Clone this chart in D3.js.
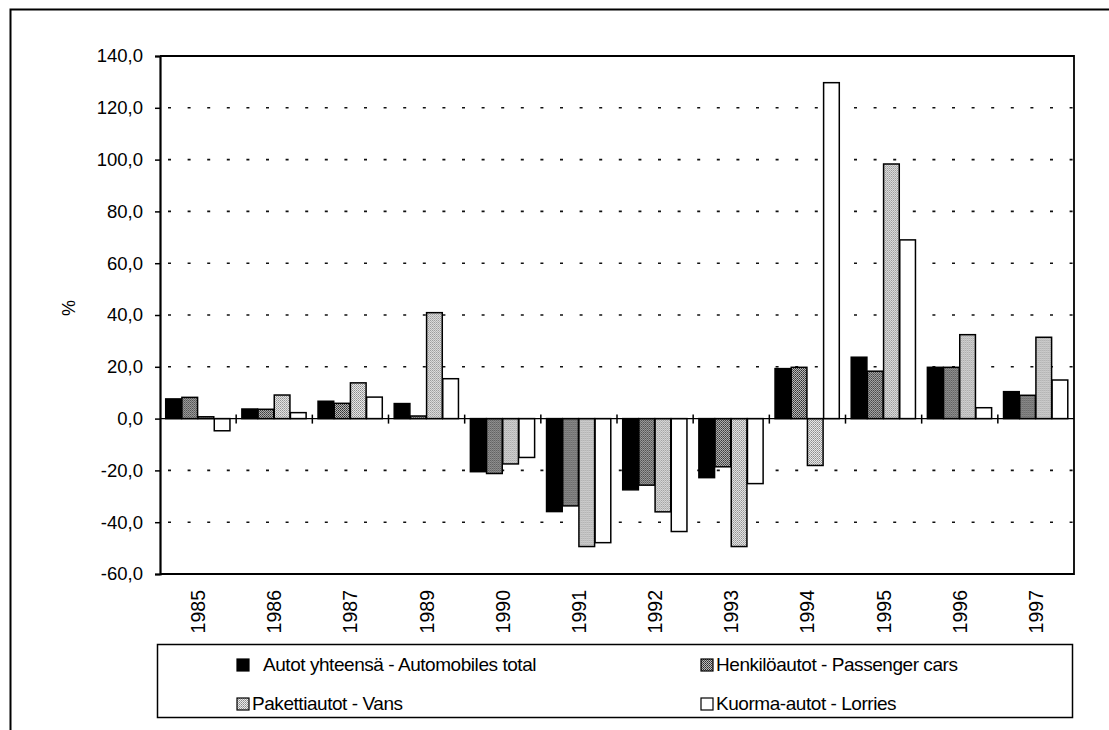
<!DOCTYPE html>
<html>
<head>
<meta charset="utf-8">
<script src="https://cdn.jsdelivr.net/npm/d3@7"></script>
<style>
  body { margin: 0; padding: 0; background: #fff; }
  svg { display: block; font-family: 'Liberation Sans', Arial, sans-serif; }
  .year { font-family: 'Liberation Sans Narrow', 'Arial Narrow', 'Liberation Sans', sans-serif; }
</style>
</head>
<body>
<svg id="chart" width="1109" height="730"></svg>
<script>
const years = ['1985', '1986', '1987', '1989', '1990', '1991', '1992', '1993', '1994', '1995', '1996', '1997']
const seriesNames = [
  'Autot yhteensä -  Automobiles total',
  'Henkilöautot - Passenger cars',
  'Pakettiautot - Vans',
  'Kuorma-autot - Lorries'
]
const automobilesTotal = [7.6, 3.7, 6.7, 5.8, -20.5, -35.9, -27.5, -22.8, 19.3, 23.7, 19.8, 10.4]
const passengerCars = [8.2, 3.6, 5.9, 1.0, -21.2, -33.7, -25.7, -18.6, 19.8, 18.3, 19.8, 9.0]
const vans = [0.7, 9.1, 13.8, 40.9, -17.5, -49.4, -36.0, -49.4, -18.1, 98.3, 32.4, 31.4]
const lorries = [-4.7, 2.3, 8.3, 15.4, -15.0, -47.9, -43.6, -25.1, 129.7, 69.0, 4.2, 14.9]
const yTicks = [140, 120, 100, 80, 60, 40, 20, 0, -20, -40, -60]

const allSeries = [automobilesTotal, passengerCars, vans, lorries]
const fills = ['#000', 'url(#passenger)', 'url(#vans)', '#fff']

const margin = {top: 56, right: 35, bottom: 156, left: 160}
const width = 1109
const height = 730
const plotW = width - margin.left - margin.right
const plotH = height - margin.top - margin.bottom

const svg = d3.select('#chart')

// dot textures for the two grey series
const defs = svg.append('defs')
const pPass = defs.append('pattern').attr('id', 'passenger')
  .attr('width', 2).attr('height', 2).attr('patternUnits', 'userSpaceOnUse')
pPass.append('rect').attr('width', 2).attr('height', 2).attr('fill', '#bdbdbd')
pPass.append('rect').attr('width', 1).attr('height', 1).attr('fill', '#2a2a2a')
pPass.append('rect').attr('x', 1).attr('y', 1).attr('width', 1).attr('height', 1).attr('fill', '#4a4a4a')
const pVans = defs.append('pattern').attr('id', 'vans')
  .attr('width', 2).attr('height', 2).attr('patternUnits', 'userSpaceOnUse')
pVans.append('rect').attr('width', 2).attr('height', 2).attr('fill', '#ececec')
pVans.append('rect').attr('width', 1).attr('height', 1).attr('fill', '#888')
pVans.append('rect').attr('x', 1).attr('y', 1).attr('width', 1).attr('height', 1).attr('fill', '#a5a5a5')

// outer frame
svg.append('path')
  .attr('d', 'M10.5,740V9.5H1115')
  .attr('fill', 'none').attr('stroke', '#000').attr('stroke-width', 2)

const g = svg.append('g').attr('transform', `translate(${margin.left},${margin.top})`)

const y = d3.scaleLinear().domain([-60, 140]).range([plotH, 0])
const x0 = d3.scaleBand().domain(years).range([0, plotW]).paddingInner(0.15).paddingOuter(0.075)
const x1 = d3.scaleBand().domain(d3.range(allSeries.length)).range([0, x0.bandwidth()])

// dotted gridlines
g.append('g')
  .selectAll('line')
  .data(yTicks.filter(t => t !== 0 && t !== 140 && t !== -60))
  .enter()
  .append('line')
  .attr('x1', 8).attr('x2', plotW)
  .attr('y1', d => y(d)).attr('y2', d => y(d))
  .attr('stroke', '#111')
  .attr('stroke-width', 1.6)
  .attr('stroke-dasharray', '3,16.6')

// bars
const groups = g.selectAll('g.year-group')
  .data(years)
  .enter()
  .append('g')
  .classed('year-group', true)
  .attr('transform', d => `translate(${x0(d)},0)`)

groups.selectAll('rect')
  .data((d, i) => allSeries.map((s, k) => ({k, v: s[i]})))
  .enter()
  .append('rect')
  .attr('x', d => x1(d.k))
  .attr('width', x1.bandwidth() - 0.5)
  .attr('y', d => y(Math.max(0, d.v)))
  .attr('height', d => Math.abs(y(d.v) - y(0)))
  .attr('fill', d => fills[d.k])
  .attr('stroke', '#000')
  .attr('stroke-width', 1.5)

// zero line with ticks between categories
g.append('line')
  .attr('x1', 0).attr('x2', plotW)
  .attr('y1', y(0)).attr('y2', y(0))
  .attr('stroke', '#000').attr('stroke-width', 1.2)
g.append('g')
  .selectAll('line')
  .data(years.slice(1))
  .enter()
  .append('line')
  .attr('x1', d => x0(d) - x0.step() * x0.paddingInner() / 2)
  .attr('x2', d => x0(d) - x0.step() * x0.paddingInner() / 2)
  .attr('y1', y(0) - 4).attr('y2', y(0) + 5)
  .attr('stroke', '#000').attr('stroke-width', 1.5)

// plot border
g.append('path')
  .attr('d', `M0,0H${plotW}V${plotH}H0`)
  .attr('fill', 'none').attr('stroke', '#000').attr('stroke-width', 1.8)

// y axis
const yAxis = d3.axisLeft(y)
  .tickValues(yTicks)
  .tickSize(5)
  .tickPadding(12)
  .tickFormat(d => d3.format('.1f')(d).replace('.', ',').replace('−', '-'))
const yg = g.append('g').call(yAxis)
yg.select('.domain').attr('stroke-width', 2.2)
yg.selectAll('.tick line').attr('stroke-width', 1.5)
yg.selectAll('.tick text')
  .attr('font-size', 18.5)
  .attr('font-family', "'Liberation Sans', Arial, sans-serif")
  .attr('fill', '#000')

// year labels
g.append('g')
  .selectAll('text')
  .data(years)
  .enter()
  .append('text')
  .attr('class', 'year')
  .attr('transform', d => `translate(${x0(d) + x0.bandwidth() / 2 + 7},${plotH + 16}) rotate(-90)`)
  .attr('text-anchor', 'end')
  .attr('font-size', 19.5)
  .text(d => d)

// % label
svg.append('text')
  .attr('transform', `translate(62,${margin.top + plotH / 2 - 7}) rotate(90)`)
  .attr('text-anchor', 'middle')
  .attr('font-size', 18)
  .text('%')

// legend
const legend = svg.append('g')
legend.append('rect')
  .attr('x', 157.5).attr('y', 644.5)
  .attr('width', 915).attr('height', 73)
  .attr('fill', 'none').attr('stroke', '#000').attr('stroke-width', 1.5)

const legendCols = [237, 701]
const legendRows = [671, 710]
const items = legend.selectAll('g.item')
  .data(seriesNames)
  .enter()
  .append('g')
  .classed('item', true)
  .attr('transform', (d, i) => `translate(${legendCols[i % 2]},${legendRows[Math.floor(i / 2)]})`)
items.append('rect')
  .attr('x', 0).attr('y', -12)
  .attr('width', 12).attr('height', 12)
  .attr('fill', (d, i) => fills[i])
  .attr('stroke', '#000').attr('stroke-width', 1.2)
items.append('text')
  .attr('x', (d, i) => i === 0 ? 26 : 15)
  .attr('y', 0)
  .attr('font-size', 19)
  .attr('letter-spacing', -0.45)
  .text(d => d)
</script>
</body>
</html>
